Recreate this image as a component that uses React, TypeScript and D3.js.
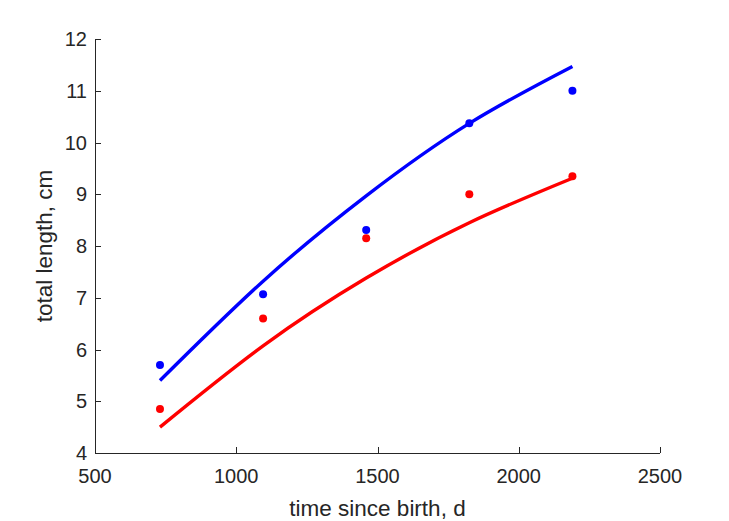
import React from "react";
import * as d3 from "d3";

const ageDays = [730, 1095, 1460, 1825, 2190];
const blueObserved = [5.7, 7.07, 8.31, 10.37, 11.0];
const redObserved = [4.85, 6.6, 8.15, 9.0, 9.35];
const blueFit = [5.4, 7.32, 8.97, 10.37, 11.47];
const redFit = [4.5, 6.07, 7.38, 8.45, 9.31];
const xTicks = [500, 1000, 1500, 2000, 2500];
const yTicks = [4, 5, 6, 7, 8, 9, 10, 11, 12];

const W = 729;
const H = 521;
const left = 95;
const right = 660;
const top = 39;
const bottom = 453;
const axisColor = "#262626";
const font = "'Liberation Sans', Arial, Helvetica, sans-serif";

export default function App() {
  const x = d3.scaleLinear().domain([500, 2500]).range([left, right]);
  const y = d3.scaleLinear().domain([4, 12]).range([bottom, top]);
  const line = d3
    .line<number>()
    .x((_, i) => x(ageDays[i]))
    .y((v) => y(v))
    .curve(d3.curveNatural);

  return (
    <svg
      width={W}
      height={H}
      style={{ position: "absolute", left: 0, top: 0, background: "#fff" }}
    >
      <rect x={0} y={0} width={W} height={H} fill="#fff" />
      <path d={line(blueFit) || ""} fill="none" stroke="#0000ff" strokeWidth={3.4} />
      <path d={line(redFit) || ""} fill="none" stroke="#ff0000" strokeWidth={3.4} />
      {blueObserved.map((v, i) => (
        <circle key={"b" + i} cx={x(ageDays[i])} cy={y(v)} r={4} fill="#0000ff" />
      ))}
      {redObserved.map((v, i) => (
        <circle key={"r" + i} cx={x(ageDays[i])} cy={y(v)} r={4} fill="#ff0000" />
      ))}
      <line x1={left} x2={right} y1={bottom + 0.5} y2={bottom + 0.5} stroke={axisColor} strokeWidth={1} />
      <line x1={left + 0.5} x2={left + 0.5} y1={top} y2={bottom} stroke={axisColor} strokeWidth={1} />
      {xTicks.map((t) => (
        <g key={"xt" + t}>
          <line
            x1={Math.round(x(t)) + 0.5}
            x2={Math.round(x(t)) + 0.5}
            y1={bottom}
            y2={bottom - 6}
            stroke={axisColor}
            strokeWidth={1}
          />
          <text
            x={x(t)}
            y={bottom + 30}
            textAnchor="middle"
            fontFamily={font}
            fontSize={20}
            fill={axisColor}
          >
            {t}
          </text>
        </g>
      ))}
      {yTicks.map((t) => (
        <g key={"yt" + t}>
          <line
            x1={left}
            x2={left + 6}
            y1={Math.round(y(t)) + 0.5}
            y2={Math.round(y(t)) + 0.5}
            stroke={axisColor}
            strokeWidth={1}
          />
          <text
            x={left - 8}
            y={y(t)}
            dy="0.35em"
            textAnchor="end"
            fontFamily={font}
            fontSize={20}
            fill={axisColor}
          >
            {t}
          </text>
        </g>
      ))}
      <text
        x={(left + right) / 2}
        y={516}
        textAnchor="middle"
        fontFamily={font}
        fontSize={22.5}
        fill={axisColor}
      >
        time since birth, d
      </text>
      <text
        transform={`translate(52, ${(top + bottom) / 2}) rotate(-90)`}
        textAnchor="middle"
        fontFamily={font}
        fontSize={22.5}
        fill={axisColor}
      >
        total length, cm
      </text>
    </svg>
  );
}
